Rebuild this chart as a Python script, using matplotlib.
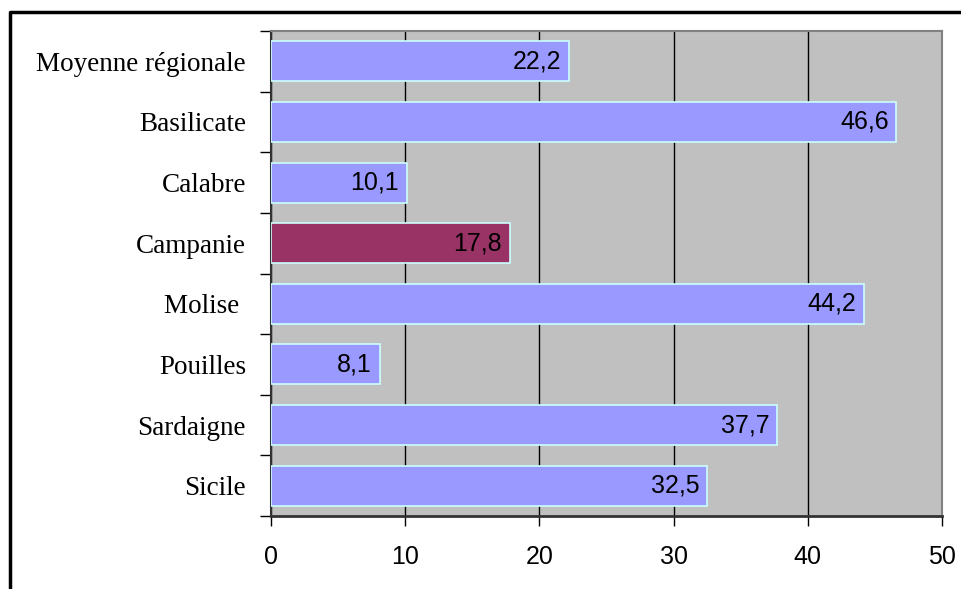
import numpy as np
from matplotlib import pyplot as plt
from matplotlib.lines import Line2D

regions = ["Moyenne régionale", "Basilicate", "Calabre", "Campanie",
           "Molise ", "Pouilles", "Sardaigne", "Sicile"]
values = [22.2, 46.6, 10.1, 17.8, 44.2, 8.1, 37.7, 32.5]
value_labels = ["22,2", "46,6", "10,1", "17,8", "44,2", "8,1", "37,7", "32,5"]
highlight = "Campanie"
x_ticks = [0, 10, 20, 30, 40, 50]

fig = plt.figure(figsize=(9.62, 5.89), dpi=100)
ax = fig.add_axes([271 / 962, 1 - 516 / 589, (942 - 271) / 962, (516 - 31) / 589])
ax.set_facecolor("#C0C0C0")

pos = np.arange(len(regions))
colors = ["#993366" if r == highlight else "#9999FF" for r in regions]
bars = ax.barh(pos, values, height=0.66, color=colors, edgecolor="#CCFFFF",
               linewidth=1.2, zorder=3)

for b, lab in zip(bars, value_labels):
    ax.annotate(lab, (b.get_width(), b.get_y() + b.get_height() / 2),
                xytext=(-5.5, 0), textcoords="offset points", ha="right",
                va="center", fontsize=18, family="Liberation Sans", zorder=4)

ax.set_xlim(0, 50)
ax.set_ylim(len(regions) - 0.5, -0.5)
ax.set_xticks(x_ticks)
ax.set_xticklabels([str(t) for t in x_ticks], family="Liberation Sans", fontsize=18)
ax.tick_params(axis="x", direction="out", length=7, width=1, pad=14)
ax.xaxis.grid(True, color="black", linewidth=1, zorder=1)

ax.set_yticks(np.arange(len(regions) + 1) - 0.5)
ax.set_yticklabels([])
ax.tick_params(axis="y", which="major", direction="out", length=8, width=1)
ax.set_yticks(pos, minor=True)
ax.set_yticklabels(regions, minor=True, family="Liberation Serif", fontsize=19.5)
ax.tick_params(axis="y", which="minor", length=0, pad=18)

ax.spines["left"].set_color("#333333")
ax.spines["bottom"].set_color("#333333")
ax.spines["left"].set_linewidth(1.5)
ax.spines["bottom"].set_linewidth(2)
ax.spines["top"].set_color("#808080")
ax.spines["right"].set_color("#808080")
ax.spines["top"].set_linewidth(1.5)
ax.spines["right"].set_linewidth(1.5)

# outer frame, runs off the right and bottom edges
fig.add_artist(Line2D([10 / 962, 10 / 962, 1.0], [0.0, 1 - 12 / 589, 1 - 12 / 589],
                      transform=fig.transFigure, color="black", linewidth=2.5))

plt.savefig("out.png", dpi=100)
